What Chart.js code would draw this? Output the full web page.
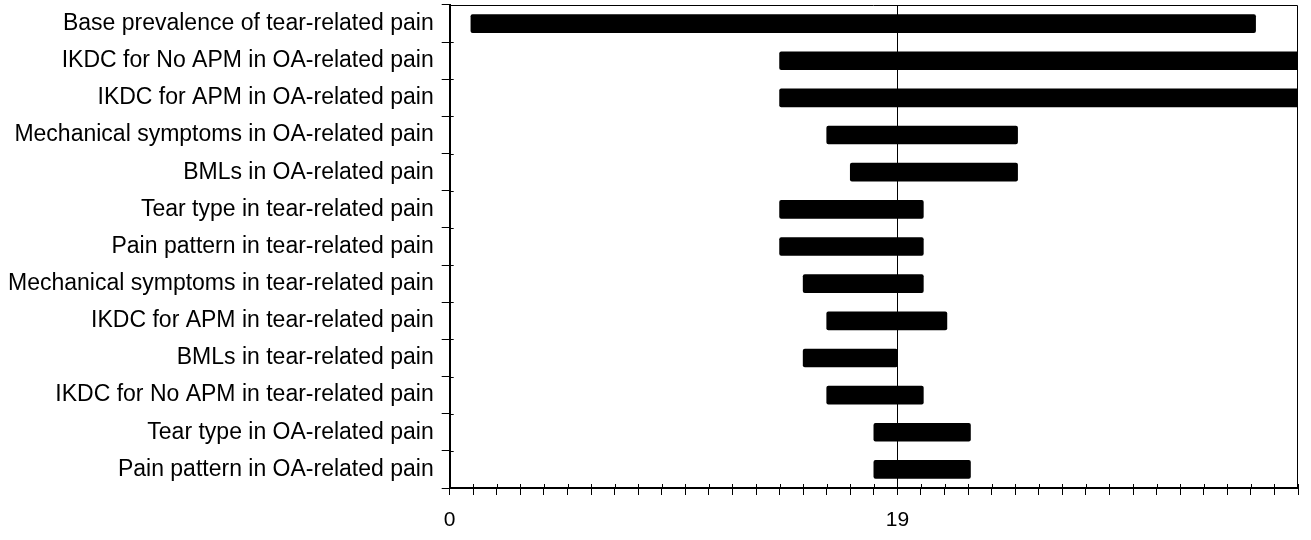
<!DOCTYPE html>
<html lang="en">
<head>
    <meta charset="UTF-8">
    <title>Tornado diagram</title>
    <script src="https://cdn.jsdelivr.net/npm/chart.js"></script>
    <style>
        html, body { margin: 0; padding: 0; background: #fff; }
        #wrap { width: 1311px; height: 540px; }
    </style>
</head>
<body>
    <div id="wrap"><canvas id="chart"></canvas></div>
    <script>
        const categories = [
            'Base prevalence of tear-related pain',
            'IKDC for No APM in OA-related pain',
            'IKDC for APM in OA-related pain',
            'Mechanical symptoms in OA-related pain',
            'BMLs in OA-related pain',
            'Tear type in tear-related pain',
            'Pain pattern in tear-related pain',
            'Mechanical symptoms in tear-related pain',
            'IKDC for APM in tear-related pain',
            'BMLs in tear-related pain',
            'IKDC for No APM in tear-related pain',
            'Tear type in OA-related pain',
            'Pain pattern in OA-related pain'
        ];
        const lowValues  = [0.9, 14, 14, 16, 17, 14, 14, 15, 16, 15, 16, 18, 18];
        const highValues = [34.2, 37, 37, 24.1, 24.1, 20.1, 20.1, 20.1, 21.1, 19, 20.1, 22.1, 22.1];
        const baseValue = 19;
        const xLabels = [0, 19];

        const font = 'Liberation Sans, Arial, sans-serif';

        // top/right frame plus the short inner halves of the tick marks
        const frame = {
            id: 'frame',
            afterDatasetsDraw(chart) {
                const { ctx, chartArea: a, scales } = chart;
                ctx.save();
                ctx.strokeStyle = '#000';
                ctx.lineWidth = 1;
                ctx.beginPath();
                ctx.moveTo(a.left, a.top + 0.5);
                ctx.lineTo(a.right - 0.5, a.top + 0.5);
                ctx.lineTo(a.right - 0.5, a.bottom);
                scales.x.ticks.forEach(t => {
                    const px = Math.round(scales.x.getPixelForValue(t.value)) + 0.5;
                    ctx.moveTo(px, a.bottom);
                    ctx.lineTo(px, a.bottom - 4);
                });
                for (let i = 0; i <= categories.length; i++) {
                    const py = Math.round(scales.y.getPixelForValue(i - 0.5)) + 0.5;
                    ctx.moveTo(a.left, py);
                    ctx.lineTo(a.left + 4, py);
                }
                ctx.stroke();
                ctx.restore();
            }
        };

        new Chart(document.getElementById('chart'), {
            type: 'bar',
            data: {
                labels: categories,
                datasets: [{
                    data: categories.map((c, i) => [lowValues[i], highValues[i]]),
                    backgroundColor: '#000',
                    borderWidth: 0,
                    borderSkipped: false,
                    borderRadius: 2,
                    barThickness: 18
                }]
            },
            options: {
                indexAxis: 'y',
                responsive: true,
                maintainAspectRatio: false,
                animation: false,
                layout: { padding: { left: 0, right: 13, top: 5, bottom: 0 } },
                plugins: { legend: { display: false }, tooltip: { enabled: false } },
                scales: {
                    x: {
                        min: 0,
                        max: 36,
                        afterFit(scale) {
                            scale.height = 52;
                        },
                        ticks: {
                            stepSize: 1,
                            autoSkip: false,
                            maxRotation: 0,
                            color: '#000',
                            padding: 13,
                            font: { family: font, size: 21 },
                            callback: v => xLabels.includes(v) ? String(v) : ''
                        },
                        grid: {
                            drawOnChartArea: true,
                            color: c => (c.tick && c.tick.value === baseValue) ? '#000' : 'rgba(0,0,0,0)',
                            tickColor: '#000',
                            tickLength: 7
                        },
                        border: { color: '#000', width: 2 }
                    },
                    y: {
                        afterFit(scale) {
                            scale.paddingTop = 0;
                            scale.paddingBottom = 0;
                        },
                        ticks: {
                            color: '#000',
                            padding: 8,
                            font: { family: font, size: 23 }
                        },
                        grid: {
                            drawOnChartArea: false,
                            offset: true,
                            tickColor: '#000',
                            tickLength: 8
                        },
                        border: { color: '#000', width: 2 }
                    }
                }
            },
            plugins: [frame]
        });
    </script>
</body>
</html>
